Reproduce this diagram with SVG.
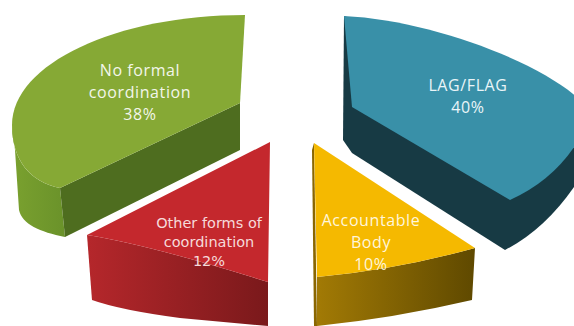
<svg xmlns="http://www.w3.org/2000/svg" width="574" height="326" viewBox="0 0 574 326">
  <defs>
    <linearGradient id="redSide" x1="0" y1="0" x2="1" y2="0">
      <stop offset="0" stop-color="#b5272b"/>
      <stop offset="1" stop-color="#7a191b"/>
    </linearGradient>
    <linearGradient id="yelSide" x1="0" y1="0" x2="1" y2="0">
      <stop offset="0" stop-color="#a27a05"/>
      <stop offset="1" stop-color="#5f4900"/>
    </linearGradient>
    <linearGradient id="grnSide" x1="0" y1="0" x2="1" y2="0">
      <stop offset="0" stop-color="#7aa12f"/>
      <stop offset="1" stop-color="#6a922a"/>
    </linearGradient>
  </defs>
  <style>
    text { text-anchor: middle; }
    .big { font-family: "Open Sans", "Liberation Sans", sans-serif; font-size: 16px; letter-spacing: 0.6px; }
    .small { font-family: "DejaVu Sans", "Liberation Sans", sans-serif; font-size: 14.5px; }
    .tb { fill: #eaf5f8; }
    .tg { fill: #f3f6ea; }
    .tr { fill: #f6dada; }
    .ty { fill: #fff6dc; }
  </style>
  <rect width="574" height="326" fill="#ffffff"/>

  <g id="lag-flag">
    <path d="M344,16 L343,140 L352,153 L505,250 Q548,228 580,178 L580,100 Z" fill="#173a44"/>
    <path d="M344,16 L352,107 L510,200 Q555,180 580,138 L580,100 C540,62 430,20 344,16 Z" fill="#3990a8"/>
    <text class="big tb" x="468" y="91">LAG/FLAG</text>
    <text class="big tb" x="468" y="113">40%</text>
  </g>

  <g id="no-formal">
    <path d="M12,125 C12,160 30,182 60,188 L65,237 C40,232 22,224 19,210 L15,150 Z" fill="url(#grnSide)"/>
    <path d="M60,188 L240,103 L240,150 L65,237 Z" fill="#4e6d1f"/>
    <path d="M245,15 L240,103 L60,188 C30,182 12,160 12,125 C12,64 116,15 245,15 Z" fill="#86a935"/>
    <text class="big tg" x="140" y="76">No formal</text>
    <text class="big tg" x="140" y="98">coordination</text>
    <text class="big tg" x="140" y="120">38%</text>
  </g>

  <g id="other-forms">
    <path d="M87,235 Q150,245 268,282 L268,326 L180,318 Q120,310 92,300 Z" fill="url(#redSide)"/>
    <path d="M270,142 L87,235 Q150,245 268,282 Z" fill="#c4282d"/>
    <text class="small tr" x="209" y="228">Other forms of</text>
    <text class="small tr" x="209" y="247">coordination</text>
    <text class="small tr" x="209" y="266">12%</text>
  </g>

  <g id="accountable-body">
    <path d="M317,277 Q395,270 475,248 L472,300 Q395,318 317,326 Z" fill="url(#yelSide)"/>
    <path d="M312,150 L314,143 L317,326 L314,326 Z" fill="#8a6600"/>
    <path d="M314,143 L475,248 Q395,270 317,277 Z" fill="#f5b900"/>
    <text class="big ty" x="371" y="226">Accountable</text>
    <text class="big ty" x="371" y="248">Body</text>
    <text class="big ty" x="371" y="270">10%</text>
  </g>
</svg>
